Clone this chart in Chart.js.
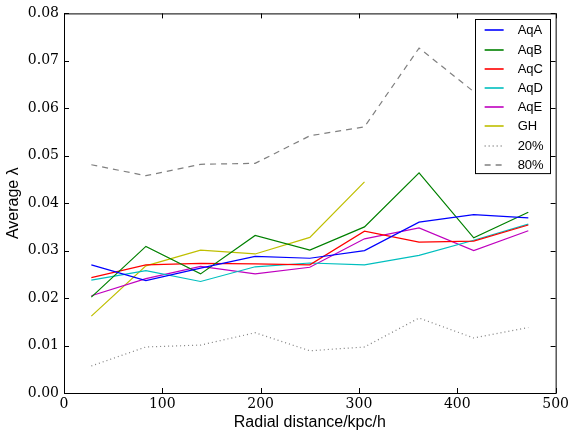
<!DOCTYPE html>
<html lang="en">
<head>
<meta charset="UTF-8">
<title>Average lambda vs radial distance</title>
<script src="https://cdn.jsdelivr.net/npm/chart.js"></script>
<style>
    html, body { margin: 0; padding: 0; background: #fff; }
    #wrap { width: 572px; height: 434px; }
</style>
</head>
<body>
<div id="wrap"><canvas id="chart" width="572" height="434"></canvas></div>
<script>
    // radial bins (kpc/h)
    const radius = [27.8, 83.3, 138.9, 194.4, 250, 305.6, 361.1, 416.7, 472.2];

    // average lambda per halo
    const aqA = [0.0270, 0.0237, 0.0263, 0.0288, 0.0284, 0.0300, 0.0360, 0.0376, 0.0369];
    const aqB = [0.0202, 0.0309, 0.0251, 0.0332, 0.0301, 0.0350, 0.0464, 0.0327, 0.0381];
    const aqC = [0.0243, 0.0270, 0.0273, 0.0272, 0.0270, 0.0341, 0.0318, 0.0320, 0.0354];
    const aqD = [0.0238, 0.0258, 0.0235, 0.0266, 0.0274, 0.0270, 0.0290, 0.0322, 0.0356];
    const aqE = [0.0205, 0.0241, 0.0267, 0.0251, 0.0265, 0.0325, 0.0348, 0.0300, 0.0342];
    const gh  = [0.0162, 0.0268, 0.0301, 0.0293, 0.0328, 0.0445];
    const p20 = [0.0057, 0.0097, 0.0101, 0.0127, 0.0089, 0.0097, 0.0158, 0.0116, 0.0138];
    const p80 = [0.0481, 0.0458, 0.0482, 0.0484, 0.0542, 0.0561, 0.0727, 0.0635, 0.0620];

    const seriesNames = ["AqA", "AqB", "AqC", "AqD", "AqE", "GH", "20%", "80%"];
    const xTicks = [0, 100, 200, 300, 400, 500];
    const yTicks = [0, 0.01, 0.02, 0.03, 0.04, 0.05, 0.06, 0.07, 0.08];

    const series = [aqA, aqB, aqC, aqD, aqE, gh, p20, p80];
    const colors = ["#0000ff", "#008000", "#ff0000", "#00bfbf", "#bf00bf", "#bfbf00", "#808080", "#808080"];
    const dashes = [[], [], [], [], [], [], [1, 3], [6, 5]];

    const datasets = series.map((vals, i) => ({
        label: seriesNames[i],
        data: vals.map((v, j) => ({x: radius[j], y: v})),
        borderColor: colors[i],
        borderWidth: 1.2,
        borderDash: dashes[i],
        pointRadius: 0,
        tension: 0,
        fill: false
    }));

    // box, inward ticks on all four sides
    const framePlugin = {
        id: "frame",
        afterDatasetsDraw(chart) {
            const {ctx, chartArea: a, scales} = chart;
            ctx.save();
            ctx.strokeStyle = "#000";
            ctx.lineWidth = 1;
            ctx.strokeRect(a.left + 0.5, a.top + 0.5, a.right - a.left, a.bottom - a.top);
            ctx.beginPath();
            xTicks.forEach(v => {
                const px = Math.round(scales.x.getPixelForValue(v)) + 0.5;
                ctx.moveTo(px, a.bottom); ctx.lineTo(px, a.bottom - 5);
                ctx.moveTo(px, a.top); ctx.lineTo(px, a.top + 5);
            });
            yTicks.forEach(v => {
                const py = Math.round(scales.y.getPixelForValue(v)) + 0.5;
                ctx.moveTo(a.left, py); ctx.lineTo(a.left + 5, py);
                ctx.moveTo(a.right, py); ctx.lineTo(a.right - 5, py);
            });
            ctx.stroke();
            ctx.restore();
        }
    };

    // legend box inside the upper right corner
    const boxLegend = {
        id: "boxLegend",
        afterDraw(chart) {
            const {ctx, chartArea: a} = chart;
            const sets = chart.data.datasets;
            const w = 75, rowH = 19.2;
            const h = sets.length * rowH + 0.5;
            const left = a.right - 6 - w, top = a.top + 6;
            ctx.save();
            ctx.fillStyle = "#fff";
            ctx.fillRect(left, top, w, h);
            ctx.strokeStyle = "#000";
            ctx.lineWidth = 1;
            ctx.strokeRect(Math.round(left) + 0.5, Math.round(top) + 0.5, w, h);
            ctx.font = "13px 'Liberation Sans', Arial, sans-serif";
            ctx.textBaseline = "middle";
            ctx.fillStyle = "#000";
            sets.forEach((ds, i) => {
                const cy = Math.round(top + 11 + i * rowH);
                ctx.beginPath();
                ctx.strokeStyle = ds.borderColor;
                ctx.lineWidth = 1.6;
                ctx.setLineDash(ds.borderDash);
                ctx.moveTo(left + 10, cy);
                ctx.lineTo(left + 29, cy);
                ctx.stroke();
                ctx.setLineDash([]);
                ctx.fillText(ds.label, left + 43, cy);
            });
            ctx.restore();
        }
    };

    new Chart(document.getElementById("chart"), {
        type: "line",
        data: {datasets: datasets},
        options: {
            responsive: false,
            animation: false,
            devicePixelRatio: 1,
            layout: {padding: {top: 11, right: 14, left: 0, bottom: 0}},
            plugins: {legend: {display: false}, tooltip: {enabled: false}},
            scales: {
                x: {
                    type: "linear",
                    min: 0, max: 500,
                    afterBuildTicks: s => { s.ticks = xTicks.map(v => ({value: v})); },
                    afterFit: s => { s.height = 41; },
                    grid: {display: false, drawTicks: false},
                    border: {display: false},
                    ticks: {
                        padding: 3,
                        color: "#000",
                        maxRotation: 0,
                        font: {family: "'DejaVu Serif', serif", size: 14},
                        callback: v => String(v)
                    },
                    title: {
                        display: true,
                        text: "Radial distance/kpc/h",
                        color: "#000",
                        padding: {top: 0, bottom: 2},
                        font: {family: "'Liberation Sans', Arial, sans-serif", size: 16}
                    }
                },
                y: {
                    min: 0, max: 0.08,
                    afterBuildTicks: s => { s.ticks = yTicks.map(v => ({value: v})); },
                    afterFit: s => { s.width = 64; },
                    grid: {display: false, drawTicks: false},
                    border: {display: false},
                    ticks: {
                        padding: 5,
                        color: "#000",
                        font: {family: "'DejaVu Serif', serif", size: 14},
                        callback: v => v.toFixed(2)
                    },
                    title: {
                        display: true,
                        text: "Average λ",
                        color: "#000",
                        padding: {top: 4, bottom: 0},
                        font: {family: "'Liberation Sans', Arial, sans-serif", size: 16}
                    }
                }
            }
        },
        plugins: [framePlugin, boxLegend]
    });
</script>
</body>
</html>
